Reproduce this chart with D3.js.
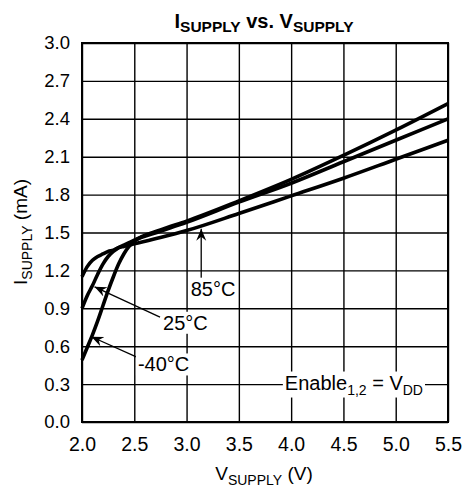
<!DOCTYPE html>
<html>
<head>
<meta charset="utf-8">
<script src="https://cdn.jsdelivr.net/npm/d3@7"></script>
<style>
  body { margin: 0; background: #fff; }
  svg text { font-family: "Liberation Sans", Arial, sans-serif; fill: #000; }
</style>
</head>
<body>
<div id="chart"></div>
<script>
var svgWidth = 466;
var svgHeight = 487;

var margin = { top: 43, right: 18, bottom: 65, left: 82 };
var width = svgWidth - margin.left - margin.right;
var height = svgHeight - margin.top - margin.bottom;

// Data
var voltage = [2.0, 2.05, 2.1, 2.15, 2.2, 2.25, 2.3, 2.35, 2.4, 2.45, 2.5, 2.75, 3.0, 3.5, 4.0, 4.5, 5.0, 5.5];
var iMinus40 = [0.49, 0.59, 0.69, 0.80, 0.92, 1.04, 1.15, 1.25, 1.33, 1.39, 1.43, 1.52, 1.59, 1.75, 1.92, 2.11, 2.31, 2.52];
var i25 = [0.90, 1.00, 1.08, 1.17, 1.25, 1.31, 1.35, 1.38, 1.40, 1.42, 1.44, 1.51, 1.58, 1.74, 1.89, 2.06, 2.23, 2.40];
var i85 = [1.15, 1.23, 1.28, 1.31, 1.33, 1.35, 1.36, 1.38, 1.39, 1.40, 1.41, 1.46, 1.515, 1.65, 1.79, 1.93, 2.08, 2.23];
var seriesNames = ["-40°C", "25°C", "85°C"];

var xTicks = [2.0, 2.5, 3.0, 3.5, 4.0, 4.5, 5.0, 5.5];
var yTicks = [0.0, 0.3, 0.6, 0.9, 1.2, 1.5, 1.8, 2.1, 2.4, 2.7, 3.0];

// annotation: label anchor, arrow tail and arrow tip, in data units
var notes = [
  { text: "85°C",  lx: 3.04,  ly: 1.0,  tx: 3.14,  ty: 1.13, hx: 3.14,  hy: 1.53 },
  { text: "25°C",  lx: 2.775, ly: 0.73, tx: 2.746, ty: 0.83, hx: 2.12,  hy: 1.07 },
  { text: "-40°C", lx: 2.535, ly: 0.40, tx: 2.535, ty: 0.51, hx: 2.09,  hy: 0.675 }
];

var svg = d3.select("#chart")
  .append("svg")
  .attr("width", svgWidth)
  .attr("height", svgHeight);

var chartGroup = svg.append("g")
  .attr("transform", `translate(${margin.left}, ${margin.top})`);

var xScale = d3.scaleLinear().domain([2, 5.5]).range([0, width]);
var yScale = d3.scaleLinear().domain([0, 3]).range([height, 0]);

// grid + tick labels
var xAxis = chartGroup.append("g")
  .attr("transform", `translate(0, ${height})`)
  .call(d3.axisBottom(xScale).tickValues(xTicks).tickFormat(d3.format(".1f"))
    .tickSize(-height).tickPadding(15));
var yAxis = chartGroup.append("g")
  .call(d3.axisLeft(yScale).tickValues(yTicks).tickFormat(d3.format(".1f"))
    .tickSize(-width).tickPadding(12));

[xAxis, yAxis].forEach(function(ax) {
  ax.select(".domain").remove();
  ax.selectAll("line").attr("stroke", "#000").attr("stroke-width", 1.4);
});
xAxis.selectAll("text").style("font-size", "19.5px");
yAxis.selectAll("text").style("font-size", "18.5px");

chartGroup.append("rect")
  .attr("width", width)
  .attr("height", height)
  .attr("fill", "none")
  .attr("stroke", "#000")
  .attr("stroke-width", 2);

// curves
var line = d3.line()
  .x(d => xScale(d[0]))
  .y(d => yScale(d[1]))
  .curve(d3.curveMonotoneX);

[iMinus40, i25, i85].forEach(function(vals) {
  chartGroup.append("path")
    .datum(voltage.map((v, i) => [v, vals[i]]))
    .attr("d", line)
    .attr("fill", "none")
    .attr("stroke", "#000")
    .attr("stroke-width", 3.6)
    .attr("stroke-linejoin", "round");
});

// arrow marker
svg.append("defs").append("marker")
  .attr("id", "head")
  .attr("viewBox", "-12 -6 14 12")
  .attr("refX", 0)
  .attr("refY", 0)
  .attr("markerUnits", "userSpaceOnUse")
  .attr("markerWidth", 14)
  .attr("markerHeight", 12)
  .attr("orient", "auto")
  .append("path")
  .attr("d", "M0,0 L-12,-5 L-8,0 L-12,5 Z")
  .attr("fill", "#000");

// labels with white background
function boxedText(g, x, y, parts, size) {
  var t = g.append("text")
    .attr("x", x)
    .attr("y", y)
    .style("font-size", size + "px");
  parts.forEach(function(p) {
    t.append("tspan")
      .attr("dy", p.dy || 0)
      .style("font-size", p.size ? p.size + "px" : null)
      .text(p.t);
  });
  var bb = t.node().getBBox();
  g.insert("rect", function() { return t.node(); })
    .attr("x", bb.x - 2)
    .attr("y", bb.y)
    .attr("width", bb.width + 4)
    .attr("height", bb.height)
    .attr("fill", "#fff");
  return t;
}

notes.forEach(function(n, i) {
  var g = chartGroup.append("g");
  g.append("line")
    .attr("x1", xScale(n.tx)).attr("y1", yScale(n.ty))
    .attr("x2", xScale(n.hx)).attr("y2", yScale(n.hy))
    .attr("stroke", "#000")
    .attr("stroke-width", 1.3)
    .attr("marker-end", "url(#head)");
  boxedText(g, xScale(n.lx), yScale(n.ly), [{ t: n.text }], 20);
});

boxedText(chartGroup.append("g"), xScale(3.94), yScale(0.257), [
  { t: "Enable" },
  { t: "1,2", size: 14, dy: 5 },
  { t: " = V", dy: -5 },
  { t: "DD", size: 14, dy: 5 }
], 20);

// titles
var title = svg.append("text")
  .attr("x", 264)
  .attr("y", 28)
  .attr("text-anchor", "middle")
  .style("font-size", "20px")
  .style("font-weight", "bold");
title.append("tspan").text("I");
title.append("tspan").attr("dy", 4).style("font-size", "15.5px").text("SUPPLY");
title.append("tspan").attr("dy", -4).text(" vs. V");
title.append("tspan").attr("dy", 4).style("font-size", "15.5px").text("SUPPLY");

var xTitle = svg.append("text")
  .attr("x", 264)
  .attr("y", 480)
  .attr("text-anchor", "middle")
  .style("font-size", "19px");
xTitle.append("tspan").text("V");
xTitle.append("tspan").attr("dy", 5).style("font-size", "14px").text("SUPPLY");
xTitle.append("tspan").attr("dy", -5).text(" (V)");

var yTitle = svg.append("text")
  .attr("transform", "translate(27, 232) rotate(-90)")
  .attr("text-anchor", "middle")
  .style("font-size", "19px");
yTitle.append("tspan").text("I");
yTitle.append("tspan").attr("dy", 5).style("font-size", "14px").text("SUPPLY");
yTitle.append("tspan").attr("dy", -5).text(" (mA)");
</script>
</body>
</html>
